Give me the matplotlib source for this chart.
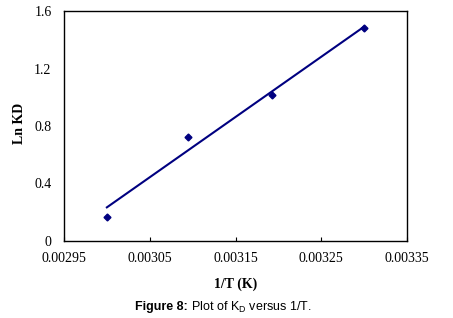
import matplotlib
matplotlib.use('Agg')
import matplotlib.pyplot as plt
from matplotlib.transforms import offset_copy

# data
inv_t = [0.0030, 0.003095, 0.003193, 0.0033]
ln_kd = [0.169, 0.726, 1.016, 1.484]
fit_x = [0.0030, 0.0033]
fit_y = [0.234, 1.491]

x_ticks = [0.00295, 0.00305, 0.00315, 0.00325, 0.00335]
x_tick_labels = ['0.00295', '0.00305', '0.00315', '0.00325', '0.00335']
y_ticks = [0, 0.4, 0.8, 1.2, 1.6]
y_tick_labels = ['0', '0.4', '0.8', '1.2', '1.6']

plt.rcParams['font.family'] = 'Liberation Serif'
plt.rcParams['mathtext.fontset'] = 'custom'
plt.rcParams['mathtext.rm'] = 'Liberation Sans'

navy = '#000080'

fig = plt.figure(figsize=(4.53, 3.18), dpi=100)
ax = fig.add_axes([64 / 453, 77 / 318, 343 / 453, 230 / 318])

ax.plot(fit_x, fit_y, color=navy, linewidth=1.5)
ax.plot(inv_t, ln_kd, linestyle='none', marker='D', markersize=3.5, color=navy)

ax.set_xlim(0.00295, 0.00335)
ax.set_ylim(0, 1.6)
ax.set_xticks(x_ticks)
ax.set_xticklabels(x_tick_labels)
ax.set_yticks(y_ticks)
ax.set_yticklabels(y_tick_labels)
ax.tick_params(axis='x', direction='in', length=3, width=0.8, pad=8, labelsize=10)
ax.tick_params(axis='y', length=0, pad=9, labelsize=10)
for s in ax.spines.values():
    s.set_linewidth(1.0)

ax.set_xlabel('1/T (K)', fontweight='bold', fontsize=10)
ax.xaxis.set_label_coords(0.5, -0.19)
ax.xaxis.label.set_va('center')
ax.set_ylabel('Ln KD', fontweight='bold', fontsize=10)
ax.yaxis.set_label_coords(-0.131, 0.51)
ax.yaxis.label.set_va('center')

# caption: bold "Figure 8:" followed by regular text
t1 = fig.text(135 / 453, 1 - 307 / 318, 'Figure 8:', family='Liberation Sans',
              fontweight='bold', fontsize=9, ha='left', va='center')
fig.canvas.draw()
w = t1.get_window_extent().width
fig.text(135 / 453, 1 - 307 / 318, r' Plot of K$_\mathrm{D}$ versus 1/T.',
         family='Liberation Sans', fontsize=9, ha='left', va='center',
         transform=offset_copy(fig.transFigure, fig=fig, x=w * 72 / fig.dpi, y=0, units='points'))

fig.savefig('out.png', dpi=100)
